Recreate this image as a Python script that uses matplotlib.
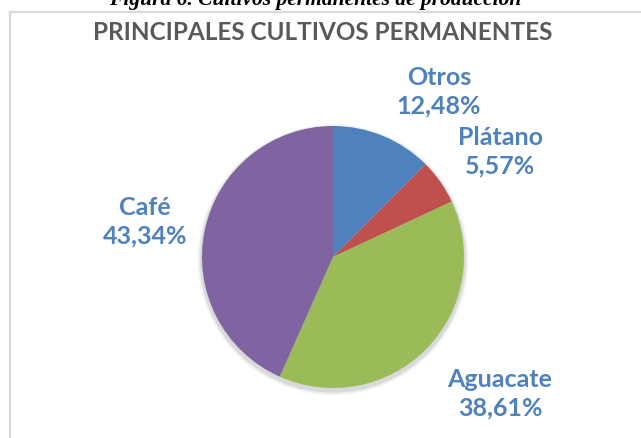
import matplotlib
matplotlib.use("Agg")
from matplotlib import pyplot as plt
from matplotlib.lines import Line2D
from matplotlib.patches import Circle

# datos del grafico
cultivos = ["Otros", "Plátano", "Aguacate", "Café"]
porcentajes = [12.48, 5.57, 38.61, 43.34]
colores = ["#4F81BD", "#C0504D", "#9BBB59", "#8064A2"]

W, H = 641, 438
fig = plt.figure(figsize=(W / 100, H / 100), dpi=100)
fig.patch.set_facecolor("white")

# pie centrado en (333, 257) px con radio 131 px
cx, cy, r = 333, 257, 131
ax = fig.add_axes([(cx - r) / W, (H - cy - r) / H, 2 * r / W, 2 * r / H])

# sombra suave debajo del pie
for k, a in [(1.035, 0.03), (1.025, 0.05), (1.015, 0.07)]:
    ax.add_patch(Circle((0, -0.02), k, color="black", alpha=a,
                        lw=0, clip_on=False, zorder=0))

ax.pie(porcentajes, colors=colores, startangle=90, counterclock=False,
       radius=1, wedgeprops=dict(linewidth=0, zorder=2))
ax.set_xlim(-1, 1)
ax.set_ylim(-1, 1)
ax.set_aspect("equal")
ax.axis("off")

# etiquetas: nombre y porcentaje con coma decimal
pos_etiquetas = [(439, 92), (500, 152), (500, 394), (145, 222)]
for nombre, valor, (px, py) in zip(cultivos, porcentajes, pos_etiquetas):
    texto = nombre + "\n" + ("%.2f" % valor).replace(".", ",") + "%"
    fig.text(px / W, 1 - py / H, texto, ha="center", va="center",
             fontsize=18, fontweight="bold", color="#4F81BD",
             family="Lato", linespacing=1.3)

# titulo
fig.text(323 / W, 1 - 33 / H, "PRINCIPALES CULTIVOS PERMANENTES",
         ha="center", va="center", fontsize=17.5, fontweight="bold",
         color="#595959", family="Lato")

# pie de figura (queda cortado por el borde superior)
fig.text(315 / W, 1 - 5 / H, "Figura 6. Cultivos permanentes de producción",
         ha="center", va="baseline", fontsize=15.5, fontweight="bold",
         fontstyle="italic", color="black", family="Liberation Serif")

# borde del area del grafico
gris = "#D9D9D9"
fig.add_artist(Line2D([10 / W, 1], [1 - 12 / H, 1 - 12 / H], color=gris,
                      lw=1.6, transform=fig.transFigure))
fig.add_artist(Line2D([10 / W, 10 / W], [0, 1 - 12 / H], color=gris,
                      lw=1.6, transform=fig.transFigure))

fig.savefig("out.png", dpi=100)
